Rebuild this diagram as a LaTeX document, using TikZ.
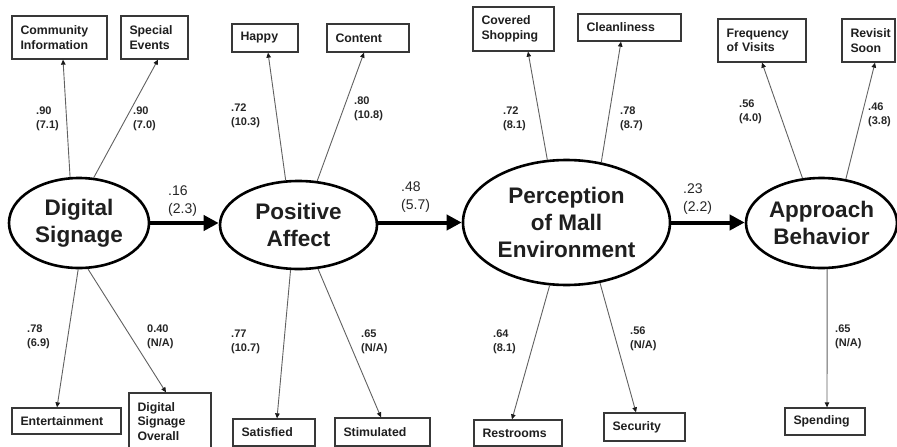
\documentclass[tikz,border=0pt]{standalone}
\usepackage{fontspec}
\setmainfont{Liberation Sans}
\usetikzlibrary{shapes.geometric,arrows.meta}
\begin{document}
\begin{tikzpicture}[x=1pt,y=-1pt,
  latent/.style={ellipse,draw=black,line width=2.6pt,inner sep=0pt,align=center,
    font=\fontsize{22.5}{27}\selectfont\bfseries,text=black!88},
  indicator/.style={draw=black!78,line width=1.3pt,fill=white,inner xsep=8.5pt,inner ysep=0pt,
    align=left,font=\fontsize{12.3}{14.5}\selectfont\bfseries,text=black!88},
  load/.style={draw=black!62,line width=0.9pt,-{Triangle[length=5pt,width=4.5pt,color=black!90]}},
  structural/.style={draw=black,line width=4pt,-{Triangle[length=15pt,width=15pt]}},
  est/.style={anchor=north west,inner sep=0pt,align=left,
    font=\fontsize{11}{13.5}\selectfont\bfseries,text=black!85},
  coef/.style={anchor=north west,inner sep=0pt,align=left,
    font=\fontsize{14}{18}\selectfont,text=black!85}
]
\fill[white] (0,0) rectangle (897,447);
\useasboundingbox (0,0) rectangle (897,447);

% latent constructs
\node[latent,minimum width=140pt,minimum height=90pt] (ds) at (79,223) {Digital\\Signage};
\node[latent,minimum width=157pt,minimum height=88pt] (pa) at (298.5,225) {Positive\\Affect};
\node[latent,minimum width=207pt,minimum height=125pt] (pe) at (566.5,222.5) {Perception\\of Mall\\Environment};
\node[latent,minimum width=151pt,minimum height=90pt] (ab) at (821.5,223) {Approach\\Behavior};

% observed indicators, top row
\node[indicator,text width=78pt,minimum height=43pt] (ci) at (59.5,37.5) {Community\\Information};
\node[indicator,text width=50pt,minimum height=43pt] (se) at (154.5,37.5) {Special\\Events};
\node[indicator,text width=49pt,minimum height=28pt] (hp) at (265,38) {Happy};
\node[indicator,text width=65pt,minimum height=28pt] (ct) at (368,38) {Content};
\node[indicator,text width=64pt,minimum height=44pt] (cs) at (513.5,29) {Covered\\Shopping};
\node[indicator,text width=86pt,minimum height=27pt] (cl) at (629.5,27.5) {Cleanliness};
\node[indicator,text width=71pt,minimum height=43pt] (fv) at (762,40.5) {Frequency\\of Visits};
\node[indicator,text width=36pt,minimum height=43pt] (rs) at (868.5,40.5) {Revisit\\Soon};

% observed indicators, bottom row
\node[indicator,text width=92pt,minimum height=26pt] (en) at (66.5,421) {Entertainment};
\node[indicator,text width=65pt,minimum height=57pt] (dso) at (170,421.5) {Digital\\Signage\\Overall};
\node[indicator,text width=65pt,minimum height=27pt] (sa) at (274,432.5) {Satisfied};
\node[indicator,text width=78pt,minimum height=28pt] (st) at (382.5,432) {Stimulated};
\node[indicator,text width=71pt,minimum height=26pt] (rr) at (518,433) {Restrooms};
\node[indicator,text width=64pt,minimum height=28pt] (sc) at (644.5,427) {Security};
\node[indicator,text width=63pt,minimum height=27pt] (sp) at (825,421.5) {Spending};

% loadings
\draw[load] (ds.101) -- ([xshift=3.5pt]ci.south);
\draw[load] (ds.72) -- ([xshift=3.5pt]se.south);
\draw[load] (ds.269) -- ([xshift=-9.5pt]en.north);
\draw[load] (ds.281) -- ([xshift=-4pt]dso.north);

\draw[load] (pa.106) -- ([xshift=3pt]hp.south);
\draw[load] (pa.67) -- ([xshift=-4pt]ct.south);
\draw[load] (pa.260) -- ([xshift=3pt]sa.north);
\draw[load] (pa.294) -- ([xshift=-1.5pt]st.north);

\draw[load] (pe.107) -- ([xshift=14.5pt]cs.south);
\draw[load] (pe.60) -- ([xshift=-8.5pt]cl.south);
\draw[load] (pe.255) -- ([xshift=-6pt]rr.north);
\draw[load] (pe.299) -- ([xshift=-8.5pt]sc.north);

\draw[load] (ab.113) -- (fv.south);
\draw[load] (ab.61) -- ([xshift=6.5pt]rs.south);
\draw[load] (ab.277) -- ([xshift=2pt]sp.north);

% structural paths
\draw[structural] (ds.east) -- (ds.east -| pa.west);
\draw[structural] (pa.east |- pe.west) -- (pe.west);
\draw[structural] (pe.east) -- (pe.east -| ab.west);

% path coefficients
\node[coef] (c1) at (168,186) {.16\\(2.3)};
\node[coef] (c2) at (401,182) {.48\\(5.7)};
\node[coef] (c3) at (683,184) {.23\\(2.2)};

% loading estimates
\node[est] (e1) at (36,107) {.90\\(7.1)};
\node[est] (e2) at (133,107) {.90\\(7.0)};
\node[est] (e3) at (231,104) {.72\\(10.3)};
\node[est] (e4) at (354,97) {.80\\(10.8)};
\node[est] (e5) at (503,107) {.72\\(8.1)};
\node[est] (e6) at (620,107) {.78\\(8.7)};
\node[est] (e7) at (739,100) {.56\\(4.0)};
\node[est] (e8) at (868,103) {.46\\(3.8)};

\node[est] (e9) at (27,325) {.78\\(6.9)};
\node[est] (e10) at (147,325) {0.40\\(N/A)};
\node[est] (e11) at (231,330) {.77\\(10.7)};
\node[est] (e12) at (361,330) {.65\\(N/A)};
\node[est] (e13) at (493,330) {.64\\(8.1)};
\node[est] (e14) at (630,327) {.56\\(N/A)};
\node[est] (e15) at (835,325) {.65\\(N/A)};
\end{tikzpicture}
\end{document}
